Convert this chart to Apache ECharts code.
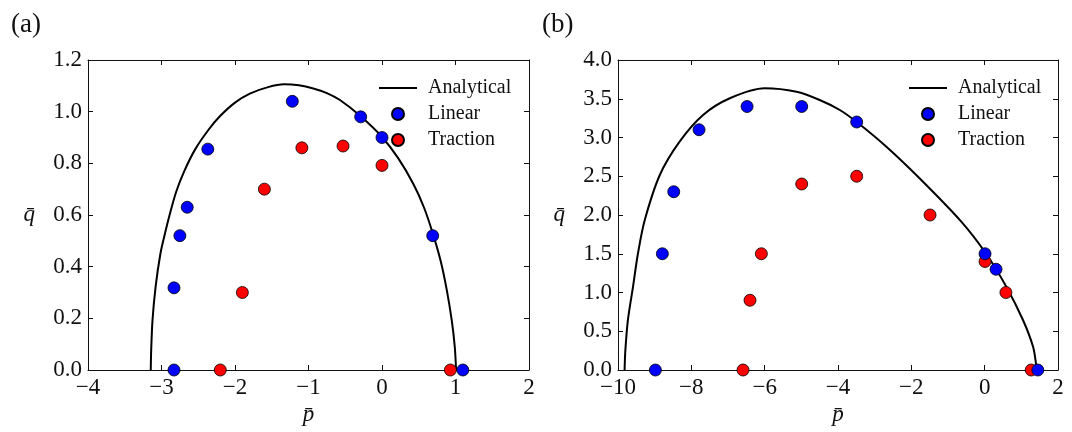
<!DOCTYPE html>
<html>
<head>
<meta charset="utf-8">
<script src="https://cdn.jsdelivr.net/npm/echarts@6/dist/echarts.min.js"></script>
<style>
  html, body { margin: 0; padding: 0; background: #fff; }
  #chart { width: 1072px; height: 432px; }
</style>
</head>
<body>
<div id="chart"></div>
<script>
// Panel (a): yield curve and simulated failure points
const analyticalA = [
  [-3.146, 0], [-3.140, 0.08], [-3.122, 0.194], [-3.080, 0.323], [-3.015, 0.45],
  [-2.96, 0.52], [-2.89, 0.60], [-2.80, 0.69], [-2.69, 0.77], [-2.54, 0.855],
  [-2.36, 0.93], [-2.206, 0.982], [-2.0, 1.035], [-1.798, 1.07], [-1.55, 1.095],
  [-1.335, 1.106], [-1.13, 1.102], [-0.935, 1.090], [-0.75, 1.072], [-0.572, 1.045],
  [-0.29, 0.982], [0.0, 0.902], [0.22, 0.82], [0.427, 0.72], [0.57, 0.63],
  [0.69, 0.53], [0.80, 0.42], [0.881, 0.31], [0.95, 0.19], [0.99, 0.09], [1.008, 0]
];
const linearA = [
  [-1.22, 1.04], [-0.29, 0.98], [0.0, 0.90], [-2.37, 0.855], [-2.65, 0.63],
  [-2.75, 0.52], [-2.83, 0.318], [-2.83, 0], [0.69, 0.52], [1.10, 0]
];
const tractionA = [
  [-1.09, 0.86], [-0.53, 0.867], [0.0, 0.792], [-1.60, 0.70], [-1.90, 0.30],
  [-2.20, 0], [0.93, 0]
];

// Panel (b)
const analyticalB = [
  [-9.82, 0], [-9.80, 0.25], [-9.73, 0.645], [-9.59, 1.075], [-9.455, 1.506],
  [-9.27, 1.935], [-8.86, 2.516], [-8.32, 2.946], [-7.68, 3.29], [-6.95, 3.506],
  [-6.0, 3.635], [-5.13, 3.59], [-4.5, 3.484], [-3.95, 3.355], [-3.48, 3.196],
  [-2.68, 2.88], [-1.77, 2.47], [-0.65, 1.92], [0.03, 1.506], [0.59, 1.075],
  [1.045, 0.645], [1.32, 0.30], [1.40, 0.08], [1.41, 0]
];
const linearB = [
  [-8.98, 0], [-8.79, 1.5], [-8.48, 2.3], [-7.79, 3.1], [-6.48, 3.4],
  [-4.99, 3.4], [-3.49, 3.2], [0.01, 1.5], [0.31, 1.3], [1.45, 0]
];
const tractionB = [
  [-6.59, 0], [-6.40, 0.9], [-6.09, 1.5], [-4.99, 2.4], [-3.49, 2.5],
  [-1.49, 2.0], [0.01, 1.4], [0.58, 1.0], [1.27, 0]
];

const xRangeA = { min: -4, max: 2, interval: 1 };
const yRangeA = { min: 0, max: 1.2, interval: 0.2 };
const xRangeB = { min: -10, max: 2, interval: 2 };
const yRangeB = { min: 0, max: 4, interval: 0.5 };

const seriesNames = ['Analytical', 'Linear', 'Traction'];
const panelLabels = ['(a)', '(b)'];
const xName = 'p\u0304';
const yName = 'q\u0304';

const SERIF = '"Liberation Serif", "DejaVu Serif", serif';
const INK = '#111';

function fmtNum(v, digits) {
  return v.toFixed(digits).replace('-', '\u2212');
}

function tickStyle() {
  return { show: true, inside: true, length: 5, lineStyle: { color: INK, width: 1 } };
}

function makeAxes(gridIndex, xr, yr, xDigits, yDigits) {
  const line = { show: true, onZero: false, lineStyle: { color: INK, width: 1 } };
  const xs = [
    {
      type: 'value', gridIndex, position: 'bottom', ...xr,
      axisLine: line, axisTick: tickStyle(), splitLine: { show: false },
      axisLabel: { color: INK, fontFamily: SERIF, fontSize: 23, margin: 6,
        formatter: v => fmtNum(v, xDigits) },
      name: xName, nameLocation: 'middle', nameGap: 22,
      nameTextStyle: { color: INK, fontFamily: SERIF, fontStyle: 'italic', fontSize: 23 }
    },
    {
      type: 'value', gridIndex, position: 'top', ...xr,
      axisLine: line, axisTick: tickStyle(), splitLine: { show: false }, axisLabel: { show: false }
    }
  ];
  const ys = [
    {
      type: 'value', gridIndex, position: 'left', ...yr,
      axisLine: line, axisTick: tickStyle(), splitLine: { show: false },
      axisLabel: { color: INK, fontFamily: SERIF, fontSize: 23, margin: 6,
        formatter: v => fmtNum(v, yDigits) },
      name: yName, nameLocation: 'middle', nameGap: 53, nameRotate: 0,
      nameTextStyle: { color: INK, fontFamily: SERIF, fontStyle: 'italic', fontSize: 23 }
    },
    {
      type: 'value', gridIndex, position: 'right', ...yr,
      axisLine: line, axisTick: tickStyle(), splitLine: { show: false }, axisLabel: { show: false }
    }
  ];
  return { xs, ys };
}

const axA = makeAxes(0, xRangeA, yRangeA, 0, 1);
const axB = makeAxes(1, xRangeB, yRangeB, 0, 1);

function panelSeries(xIdx, yIdx, curve, lin, trac) {
  const dot = color => ({ color, borderColor: '#000', borderWidth: 0.8, opacity: 1 });
  return [
    {
      name: seriesNames[0], type: 'line', xAxisIndex: xIdx, yAxisIndex: yIdx,
      data: curve, showSymbol: false, symbol: 'none', smooth: 0.3,
      lineStyle: { color: '#000', width: 2 }, itemStyle: { color: '#000' }, z: 2
    },
    {
      name: seriesNames[1], type: 'scatter', xAxisIndex: xIdx, yAxisIndex: yIdx,
      data: lin, symbol: 'circle', symbolSize: 12, itemStyle: dot('#0000ff'), z: 4
    },
    {
      name: seriesNames[2], type: 'scatter', xAxisIndex: xIdx, yAxisIndex: yIdx,
      data: trac, symbol: 'circle', symbolSize: 12, itemStyle: dot('#ff0000'), z: 3
    }
  ];
}

function legendAt(left, top) {
  return {
    orient: 'vertical', left, top, itemWidth: 38, itemHeight: 12, itemGap: 6,
    selectedMode: false,
    textStyle: { color: INK, fontFamily: SERIF, fontSize: 20, padding: [0, 0, 0, 6] },
    data: [
      { name: seriesNames[0], icon: 'path://M0,0 L38,0 L38,2 L0,2 Z', itemStyle: { color: '#000', borderWidth: 0 } },
      { name: seriesNames[1], icon: 'circle' },
      { name: seriesNames[2], icon: 'circle' }
    ]
  };
}

const chart = echarts.init(document.getElementById('chart'), null, { renderer: 'canvas' });
chart.setOption({
  backgroundColor: '#fff',
  animation: false,
  title: [
    { text: panelLabels[0], left: 6, top: 6, textStyle: { fontFamily: SERIF, fontSize: 27, fontWeight: 'normal', color: INK } },
    { text: panelLabels[1], left: 537, top: 6, textStyle: { fontFamily: SERIF, fontSize: 27, fontWeight: 'normal', color: INK } }
  ],
  grid: [
    { left: 88, top: 60, width: 441, height: 310 },
    { left: 618, top: 60, width: 440, height: 310 }
  ],
  legend: [legendAt(374, 73), legendAt(904, 73)],
  xAxis: [...axA.xs, ...axB.xs],
  yAxis: [...axA.ys, ...axB.ys],
  series: [
    ...panelSeries(0, 0, analyticalA, linearA, tractionA),
    ...panelSeries(2, 2, analyticalB, linearB, tractionB)
  ]
});
</script>
</body>
</html>
